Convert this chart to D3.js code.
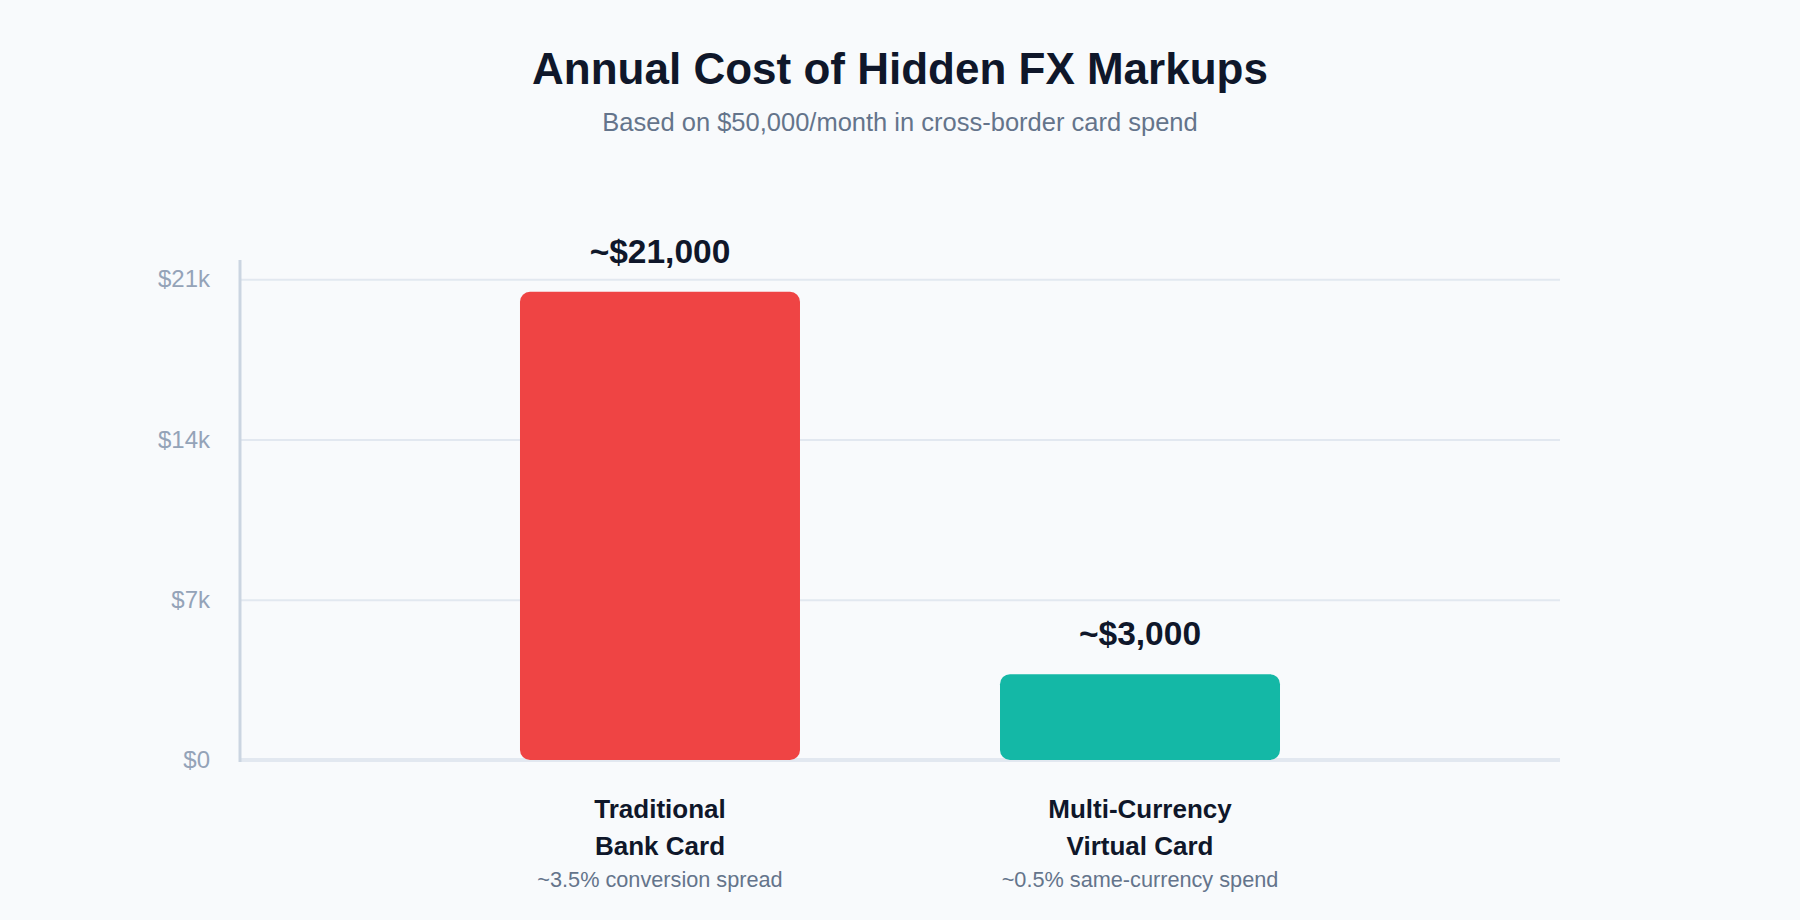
<!DOCTYPE html>
<html>
<head>
<meta charset="utf-8">
<script src="https://cdn.jsdelivr.net/npm/d3@7"></script>
<style>
  html, body { margin: 0; padding: 0; background: #f8fafc; }
  svg { display: block; font-family: "Liberation Sans", Arial, Helvetica, sans-serif; }
</style>
</head>
<body>
<svg id="chart" width="1800" height="920"></svg>
<script>
// ---- data ----
const categories = ["Traditional Bank Card", "Multi-Currency Virtual Card"];
const categoryLines = [["Traditional", "Bank Card"], ["Multi-Currency", "Virtual Card"]];
const categoryNotes = ["~3.5% conversion spread", "~0.5% same-currency spend"];
const values = [20450, 3750];
const valueLabels = ["~$21,000", "~$3,000"];
const barColors = ["#ef4444", "#14b8a6"];
const tickValues = [0, 7000, 14000, 21000];
const tickLabels = ["$0", "$7k", "$14k", "$21k"];
const title = "Annual Cost of Hidden FX Markups";
const subtitle = "Based on $50,000/month in cross-border card spend";

// ---- layout ----
const W = 1800, H = 920;
const plot = { left: 240, right: 1560, top: 260, bottom: 760 };
const svg = d3.select("#chart");

svg.append("rect").attr("width", W).attr("height", H).attr("fill", "#f8fafc");

// title
svg.append("text").attr("x", W / 2).attr("y", 84).attr("text-anchor", "middle")
  .attr("font-size", 44).attr("font-weight", 700).attr("fill", "#0f172a").text(title);
svg.append("text").attr("x", W / 2).attr("y", 131).attr("text-anchor", "middle")
  .attr("font-size", 25.5).attr("fill", "#64748b").text(subtitle);

// scales
const x = d3.scaleBand().domain(categories).range([plot.left, plot.right])
  .paddingInner(0.4167).paddingOuter(0.5833);
const y = d3.scaleLinear().domain([0, 21840]).range([plot.bottom, plot.top]);

// gridlines
const yAxis = d3.axisLeft(y).tickValues(tickValues)
  .tickSize(-(plot.right - plot.left)).tickPadding(30)
  .tickFormat((d, i) => tickLabels[i]);
const gAxis = svg.append("g").attr("transform", `translate(${plot.left},0)`).call(yAxis);
gAxis.select(".domain").remove();
gAxis.selectAll(".tick line").attr("stroke", "#e2e8f0").attr("stroke-width", 2);
gAxis.selectAll(".tick text").attr("fill", "#94a3b8").attr("font-size", 24)
  .attr("font-family", "'Liberation Sans', Arial, sans-serif");
gAxis.selectAll(".tick").filter(d => d === 0).select("line").remove();

// baseline
svg.append("line").attr("x1", plot.left).attr("x2", plot.right)
  .attr("y1", y(0)).attr("y2", y(0)).attr("stroke", "#e2e8f0").attr("stroke-width", 4);
// y axis line
svg.append("line").attr("x1", plot.left).attr("x2", plot.left)
  .attr("y1", plot.top).attr("y2", y(0) + 2).attr("stroke", "#cbd5e1").attr("stroke-width", 3);

// bars
svg.append("g").selectAll("rect").data(categories).join("rect")
  .attr("x", d => x(d)).attr("width", x.bandwidth())
  .attr("y", (d, i) => y(values[i])).attr("height", (d, i) => y(0) - y(values[i]))
  .attr("rx", 10).attr("ry", 10)
  .attr("fill", (d, i) => barColors[i]);

// value labels
svg.append("g").selectAll("text").data(categories).join("text")
  .attr("x", d => x(d) + x.bandwidth() / 2)
  .attr("y", (d, i) => y(values[i]) - 29)
  .attr("text-anchor", "middle").attr("font-size", 33.5).attr("font-weight", 700)
  .attr("fill", "#0f172a").text((d, i) => valueLabels[i]);

// category labels
const cat = svg.append("g").selectAll("g").data(categories).join("g")
  .attr("transform", d => `translate(${x(d) + x.bandwidth() / 2},0)`);
cat.each(function (d, i) {
  const g = d3.select(this);
  categoryLines[i].forEach((line, j) => {
    g.append("text").attr("y", 818 + j * 36.5).attr("text-anchor", "middle")
      .attr("font-size", 26).attr("font-weight", 700).attr("fill", "#0f172a").text(line);
  });
  g.append("text").attr("y", 887).attr("text-anchor", "middle")
    .attr("font-size", 21.7).attr("fill", "#64748b").text(categoryNotes[i]);
});
</script>
</body>
</html>
